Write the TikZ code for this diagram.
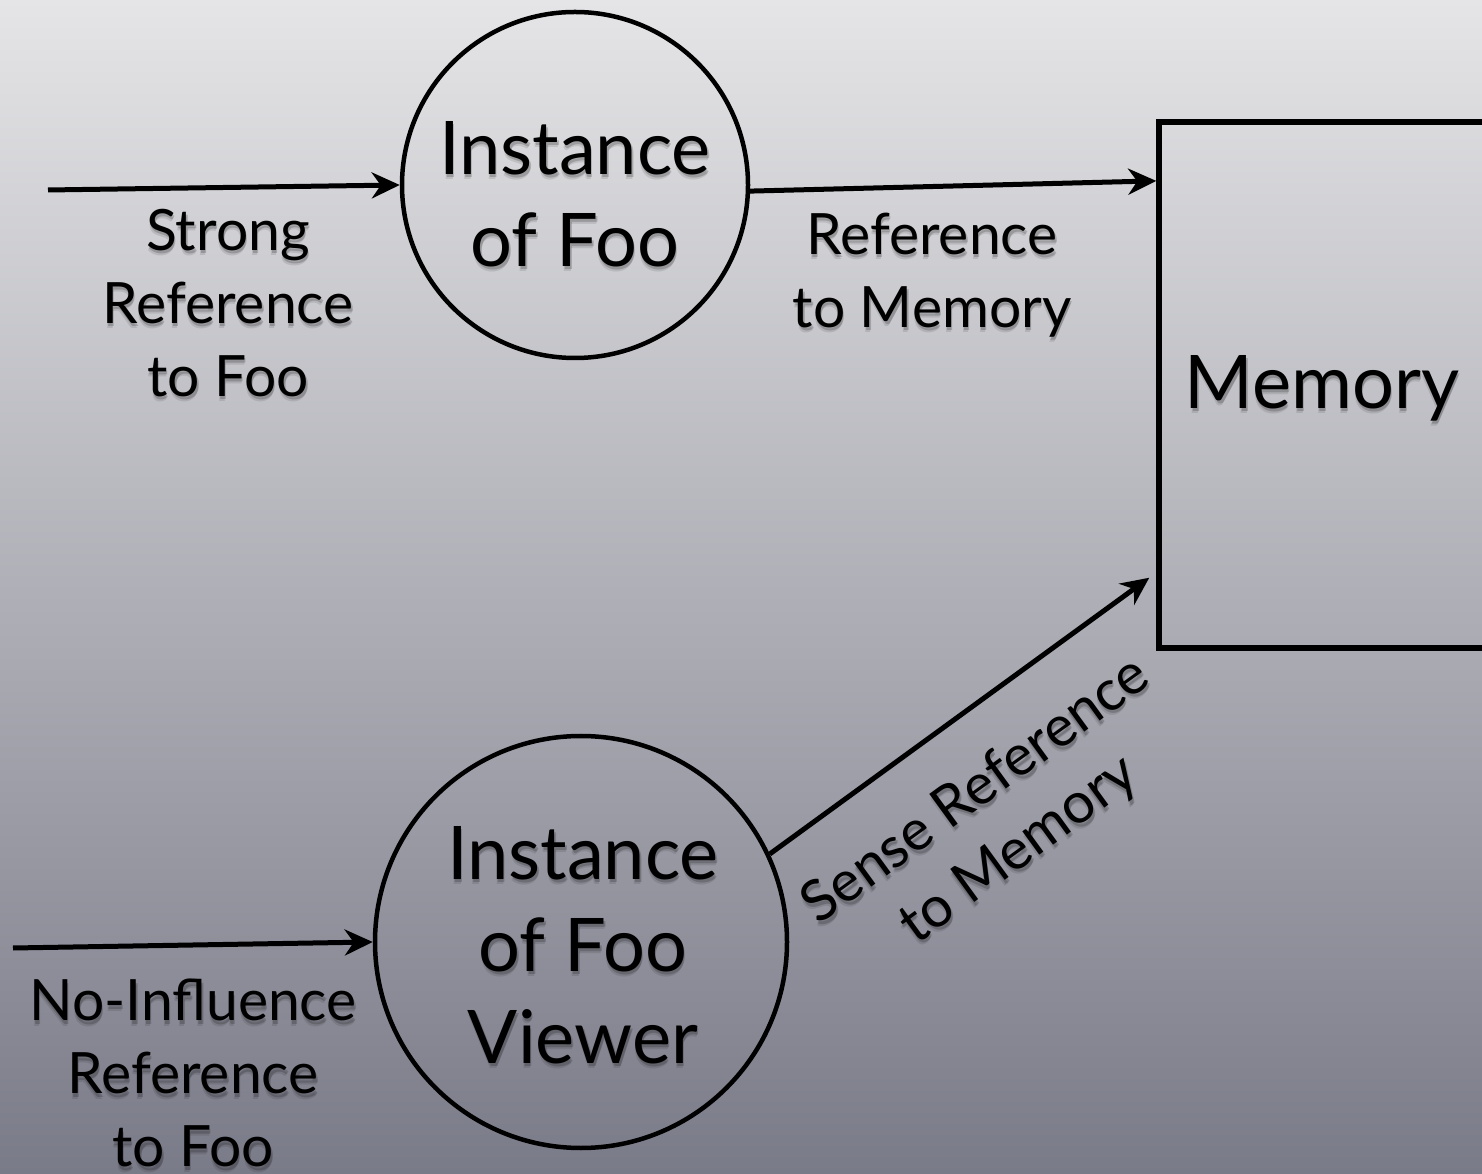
\documentclass[tikz,border=0pt]{standalone}
\usepackage{fontspec}
\setmainfont{Lato}
\usetikzlibrary{arrows.meta,calc}
\definecolor{bgtop}{RGB}{229,229,231}
\definecolor{bgbot}{RGB}{122,123,136}
\newcommand\bigtxt{\fontsize{74}{92}\selectfont}
\newcommand\smtxt{\fontsize{57}{73}\selectfont}
\newcommand\shlabel[4]{%
  \node[#3, text=black, text opacity=0.18] at ($(#2)+(1.5,-3.5)$) {#4};
  \node[#3, text=black, text opacity=0.10] at ($(#2)+(0.5,-5.5)$) {#4};
  \node[#3] (#1) at (#2) {#4};}
\tikzset{
  arr/.style={line width=5pt, -{Stealth[length=28pt,width=26pt,inset=9pt]}},
  ent/.style={circle, draw, line width=4.5pt, inner sep=0pt},
  memb/.style={draw, line width=5.5pt, inner sep=0pt},
  bigt/.style={align=center, font=\bigtxt, inner sep=0pt},
  smt/.style={align=center, font=\smtxt, inner sep=0pt}
}
\begin{document}
\begin{tikzpicture}[x=1pt,y=1pt]
\shade[top color=bgtop,bottom color=bgbot] (0,0) rectangle (1482,1173);
\useasboundingbox (0,0) rectangle (1482,1173);
\node[ent, minimum size=346pt] (foo) at (575,988) {};
\node[ent, minimum size=412pt] (viewer) at (581,231) {};
\node[memb, minimum width=330pt, minimum height=526pt] (mem) at (1324,788) {};
\shlabel{foot}{575,979}{bigt}{Instance\\of Foo}
\shlabel{viewt}{583,228}{bigt}{Instance\\of Foo\\Viewer}
\shlabel{memt}{1322,785}{bigt}{Memory}
\shlabel{l1}{228,870}{smt}{Strong\\Reference\\to Foo}
\shlabel{l2}{932,898}{smt}{Reference\\to Memory}
\shlabel{l3}{193,100}{smt}{No-Influence\\Reference\\to Foo}
\shlabel{l4}{998,352}{smt, rotate=36}{Sense Reference\\to Memory}
\coordinate (s1) at (48,983);
\coordinate (s2) at (13,225);
\draw[arr] (s1) -- (foo.west);
\draw[arr] (foo.-2) -- ($(mem.north west)!0.116!(mem.south west)$);
\draw[arr] (s2) -- (viewer.west);
\draw[arr] (viewer.25) -- ($(mem.south west)+(-7,73)$);
\end{tikzpicture}
\end{document}
